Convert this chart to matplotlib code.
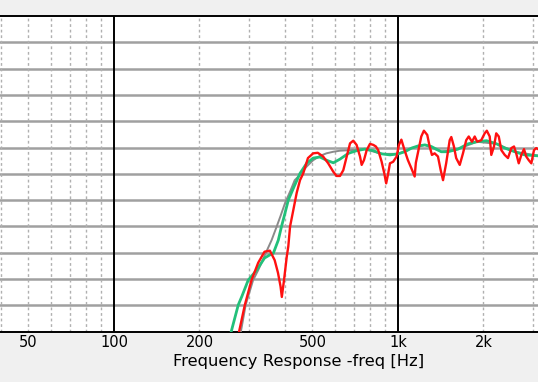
import matplotlib
matplotlib.use("Agg")
import matplotlib.pyplot as plt
from matplotlib.ticker import FixedLocator, NullFormatter, NullLocator

# Red: measured response
red_f = [269, 276, 289, 305, 322, 339, 354, 368, 378, 386, 390, 397, 406, 411, 417, 428, 440, 452,
         464, 482, 503, 522, 545, 568, 592, 608, 625, 642, 660, 678, 696, 715, 735, 745, 759, 776,
         797, 819, 836, 852, 876, 895, 909, 924, 937, 962, 989, 1008, 1028, 1055, 1084, 1114, 1145,
         1156, 1208, 1234, 1268, 1293, 1317, 1346, 1383, 1414, 1441, 1478, 1521, 1541, 1574, 1603,
         1650, 1694, 1739, 1775, 1822, 1863, 1901, 1965, 2020, 2055, 2104, 2131, 2178, 2218, 2264,
         2312, 2376, 2440, 2507, 2562, 2608, 2662, 2719, 2778, 2829, 2887, 2948, 3012, 3067, 3162]
red_db = [37.5, 40.1, 45.1, 49.8, 53.1, 55.2, 55.4, 53.6, 51.2, 48.6, 46.6, 49.8, 54.3, 56.2, 60.0,
          63.1, 66.4, 68.8, 70.1, 73.0, 73.9, 74.0, 73.3, 72.0, 70.4, 69.6, 69.6, 70.7, 73.3, 75.8,
          76.3, 75.5, 73.3, 71.7, 72.6, 74.5, 75.7, 75.5, 75.2, 74.5, 72.3, 70.1, 68.2, 70.1, 72.0,
          72.3, 73.3, 75.5, 76.5, 74.5, 72.6, 71.1, 69.5, 72.1, 77.1, 78.2, 77.4, 75.2, 73.6, 73.9,
          73.3, 70.7, 68.8, 72.0, 76.4, 77.0, 75.2, 73.0, 71.7, 73.9, 76.4, 77.1, 76.1, 77.1, 76.1,
          76.4, 77.7, 78.2, 77.1, 73.6, 75.2, 77.7, 77.1, 74.5, 73.6, 73.0, 74.9, 75.2, 73.9, 72.0,
          73.6, 74.7, 73.3, 72.6, 72.0, 74.5, 74.9, 74.5]

# Green: smoothed response
green_f = [251, 259, 274, 282, 297, 318, 339, 354, 364, 379, 389, 400, 411, 431, 452, 477, 503, 531,
           560, 592, 625, 669, 715, 764, 819, 876, 937, 1002, 1057, 1117, 1176, 1244, 1310, 1421,
           1500, 1627, 1764, 1895, 2051, 2225, 2378, 2578, 2794, 3162]
green_db = [37.5, 40.1, 45.1, 46.7, 49.8, 51.7, 54.0, 54.6, 54.9, 57.4, 60.0, 62.5, 65.0, 67.6, 70.1,
            72.0, 73.0, 73.2, 72.6, 72.1, 72.8, 73.9, 74.4, 74.7, 74.4, 73.8, 73.6, 73.8, 74.2, 74.9,
            75.3, 75.5, 75.2, 74.2, 74.2, 74.7, 75.7, 76.1, 76.3, 75.7, 74.9, 74.2, 73.6, 73.4]

# Gray: reference / target response
gray_f = [272, 280, 291, 309, 322, 334, 344, 359, 373, 386, 400, 419, 433, 452, 477, 503, 531, 560,
          592, 625, 678, 764, 876, 1002, 1117, 1244, 1421, 1627, 1895, 2225, 2578, 3162]
gray_db = [37.5, 40.1, 45.1, 49.8, 51.7, 53.6, 55.2, 57.4, 59.8, 62.0, 64.4, 66.9, 68.8, 69.8, 71.4,
           72.6, 73.4, 73.9, 74.2, 74.4, 74.5, 74.7, 73.8, 73.8, 74.9, 75.5, 74.2, 74.7, 76.1, 75.7,
           74.2, 73.4]

major_ticks = [100, 1000]
minor_ticks = [40, 50, 60, 70, 80, 90, 200, 300, 400, 500, 600, 700, 800, 900, 2000, 3000]
tick_pos = [50, 100, 200, 500, 1000, 2000]
tick_labels = ["50", "100", "200", "500", "1k", "2k"]

fig = plt.figure(figsize=(5.38, 3.82), dpi=100, facecolor="#f0f0f0")
ax = fig.add_axes([0.0, 0.1317, 1.0, 0.8264])
ax.set_facecolor("white")
ax.set_xscale("log")
ax.set_xlim(39.7, 3112)
ax.set_ylim(40, 100)

# grid
for yv in range(45, 100, 5):
    ax.axhline(yv, color="#a0a0a0", lw=1.8, zorder=1)
for xv in minor_ticks:
    ax.axvline(xv, color="#b0b0b0", lw=1.0, ls=(0, (2, 2)), zorder=1)
for xv in major_ticks:
    ax.axvline(xv, color="black", lw=1.4, zorder=2)

ax.plot(gray_f, gray_db, color="#8a8a8a", lw=1.4, zorder=3)
ax.plot(green_f, green_db, color="#22c07a", lw=2.0, zorder=4)
ax.plot(red_f, red_db, color="#ff1010", lw=1.7, zorder=5)

ax.xaxis.set_major_locator(FixedLocator(tick_pos))
ax.set_xticklabels(tick_labels)
ax.xaxis.set_minor_locator(NullLocator())
ax.xaxis.set_minor_formatter(NullFormatter())
ax.tick_params(axis="x", length=0, pad=2.5, labelsize=10.5, colors="black")
ax.set_yticks([])
for s in ["left", "right"]:
    ax.spines[s].set_visible(False)
for s in ["top", "bottom"]:
    ax.spines[s].set_color("black")
    ax.spines[s].set_linewidth(1.4)

fig.text(299 / 538, 1 - 361.5 / 382, "Frequency Response -freq [Hz]",
         ha="center", va="center", fontsize=11.8)

fig.savefig("out.png", dpi=100, facecolor=fig.get_facecolor())
